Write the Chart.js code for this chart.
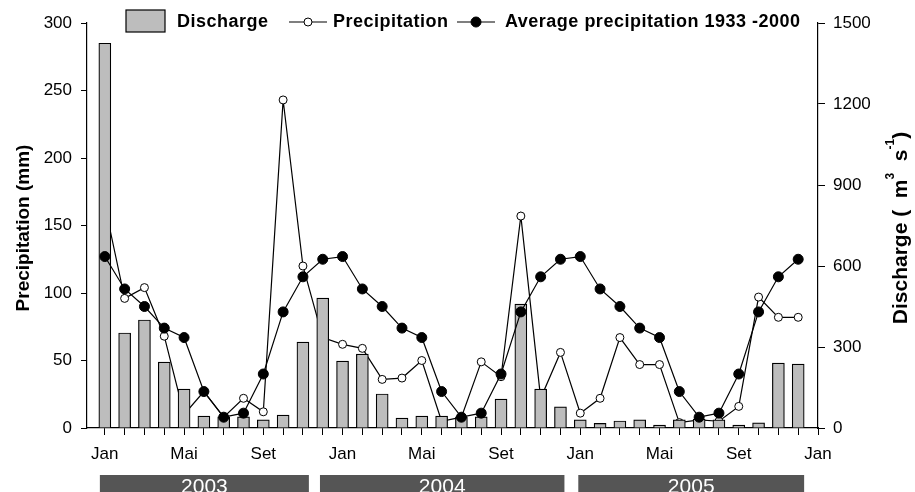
<!DOCTYPE html>
<html>
<head>
<meta charset="utf-8">
<script src="https://cdn.jsdelivr.net/npm/chart.js@4.4.1/dist/chart.umd.min.js"></script>
<style>
  html, body { margin: 0; padding: 0; background: #fff; }
  #wrap { width: 915px; height: 492px; position: relative; }
</style>
</head>
<body>
<div id="wrap"><canvas id="chart_discharge" width="915" height="492"></canvas></div>
<script>
// month index 0 = Jan 2003 ... 35 = Dec 2005, 36 = Jan 2006
var monthIdx = [0,1,2,3,4,5,6,7,8,9,10,11,12,13,14,15,16,17,18,19,20,21,22,23,24,25,26,27,28,29,30,31,32,33,34,35];
var precipitation = [165, 96, 104, 68, 10, 27, 8, 22, 12, 243, 120, 67,
                     62, 59, 36, 37, 50, 5, 8, 49, 38, 157, 22, 56,
                     11, 22, 67, 47, 47, 4, 6, 5, 16, 97, 82, 82];
var avgPrecipitation = [127, 103, 90, 74, 67, 27, 8, 11, 40, 86, 112, 125,
                        127, 103, 90, 74, 67, 27, 8, 11, 40, 86, 112, 125,
                        127, 103, 90, 74, 67, 27, 8, 11, 40, 86, 112, 125];
var discharge = [1425, 352, 400, 244, 144, 44, 41, 41, 30, 48, 318, 481,
                 248, 274, 126, 37, 44, 44, 41, 41, 107, 459, 144, 78,
                 30, 17, 26, 30, 11, 30, 33, 30, 11, 19, 240, 237];
var tickPos = [0, 4, 8, 12, 16, 20, 24, 28, 32, 36];
var tickLabels = ['Jan', 'Mai', 'Set', 'Jan', 'Mai', 'Set', 'Jan', 'Mai', 'Set', 'Jan'];
var years = ['2003', '2004', '2005'];
var yearStart = [-0.25, 10.86, 23.9];
var yearEnd = [10.3, 23.2, 35.3];

var chart;
var font_family = "'Liberation Sans', Arial, sans-serif";
var bar_color = '#bdbdbd';

function pts(values) {
  return values.map(function (v, i) { return { x: monthIdx[i], y: v }; });
}

function drawMarker(ctx, x, y, filled) {
  ctx.beginPath();
  ctx.arc(x, y, filled ? 5 : 4, 0, Math.PI * 2);
  ctx.fillStyle = filled ? '#000' : '#fff';
  ctx.fill();
  ctx.lineWidth = 1;
  ctx.strokeStyle = '#000';
  ctx.stroke();
}

var extras = {
  id: 'extras',
  afterDraw: function (c) {
    var ctx = c.ctx;
    var xs = c.scales.x;
    ctx.save();

    // year bands under the axis
    ctx.font = '21px ' + font_family;
    ctx.textAlign = 'center';
    ctx.textBaseline = 'alphabetic';
    for (var i = 0; i < years.length; i++) {
      var x0 = xs.getPixelForValue(yearStart[i]);
      var x1 = xs.getPixelForValue(yearEnd[i]);
      ctx.fillStyle = '#555555';
      ctx.fillRect(x0, 475, x1 - x0, 20);
      ctx.fillStyle = '#fff';
      ctx.fillText(years[i], (x0 + x1) / 2, 493);
    }

    // left title
    ctx.fillStyle = '#000';
    ctx.textBaseline = 'middle';
    ctx.save();
    ctx.translate(24, 228);
    ctx.rotate(-Math.PI / 2);
    ctx.font = 'bold 19px ' + font_family;
    ctx.fillText('Precipitation (mm)', 0, 0);
    ctx.restore();

    // right title with superscripts
    ctx.save();
    ctx.translate(901, 228);
    ctx.rotate(-Math.PI / 2);
    var parts = [['Discharge (  m', false], ['3', true], ['  s', false], ['-1', true], [')', false]];
    var big = 'bold 21px ' + font_family, small = 'bold 12px ' + font_family;
    var total = 0;
    parts.forEach(function (p) { ctx.font = p[1] ? small : big; total += ctx.measureText(p[0]).width; });
    var cx = -total / 2;
    ctx.textAlign = 'left';
    parts.forEach(function (p) {
      ctx.font = p[1] ? small : big;
      ctx.fillText(p[0], cx, p[1] ? -10 : 0);
      cx += ctx.measureText(p[0]).width;
    });
    ctx.restore();

    // legend
    ctx.textAlign = 'left';
    ctx.textBaseline = 'middle';
    ctx.font = 'bold 18px ' + font_family;
    ctx.letterSpacing = '0.5px';
    ctx.fillStyle = bar_color;
    ctx.fillRect(126, 10, 39, 22);
    ctx.lineWidth = 1.2;
    ctx.strokeStyle = '#000';
    ctx.strokeRect(126, 10, 39, 22);
    ctx.fillStyle = '#000';
    ctx.fillText('Discharge', 177, 22);

    ctx.beginPath();
    ctx.moveTo(289, 22); ctx.lineTo(327, 22);
    ctx.lineWidth = 1.2; ctx.stroke();
    drawMarker(ctx, 308, 22, false);
    ctx.fillStyle = '#000';
    ctx.fillText('Precipitation', 333, 22);

    ctx.beginPath();
    ctx.moveTo(457, 22); ctx.lineTo(495, 22);
    ctx.lineWidth = 1.2; ctx.stroke();
    drawMarker(ctx, 476, 22, true);
    ctx.fillStyle = '#000';
    ctx.fillText('Average precipitation 1933 -2000', 505, 22);

    ctx.restore();
  }
};

function make_chart() {
  var ctx = document.getElementById('chart_discharge').getContext('2d');
  Chart.defaults.font.family = font_family;
  Chart.defaults.color = '#000';

  chart = new Chart(ctx, {
    type: 'bar',
    data: {
      datasets: [{
        type: 'line',
        label: 'Average precipitation 1933 -2000',
        data: pts(avgPrecipitation),
        yAxisID: 'y',
        borderColor: '#000',
        borderWidth: 1.2,
        pointRadius: 5,
        pointBackgroundColor: '#000',
        pointBorderColor: '#000',
        pointBorderWidth: 1,
        tension: 0,
        order: 0
      }, {
        type: 'bar',
        label: 'Discharge',
        data: pts(discharge),
        yAxisID: 'y1',
        backgroundColor: bar_color,
        borderColor: '#000',
        borderWidth: 1.2,
        barThickness: 12,
        order: 1
      }, {
        type: 'line',
        label: 'Precipitation',
        data: pts(precipitation),
        yAxisID: 'y',
        borderColor: '#000',
        borderWidth: 1.2,
        pointRadius: 4,
        pointBackgroundColor: '#fff',
        pointBorderColor: '#000',
        pointBorderWidth: 1,
        tension: 0,
        order: 2
      }]
    },
    options: {
      responsive: false,
      animation: false,
      layout: { padding: { top: 23, left: 0, right: 0, bottom: 0 } },
      plugins: { legend: { display: false }, tooltip: { enabled: false } },
      scales: {
        x: {
          type: 'linear',
          offset: false,
          min: -0.9,
          max: 36,
          afterBuildTicks: function (s) {
            s.ticks = monthIdx.concat([36]).map(function (v) { return { value: v }; });
          },
          afterFit: function (s) { s.height = 64; },
          grid: { offset: false, drawOnChartArea: false, drawTicks: true, tickLength: 7, color: '#000', lineWidth: 1 },
          border: { display: true, color: '#000', width: 1.2 },
          ticks: {
            autoSkip: false,
            maxRotation: 0,
            padding: 9,
            font: { size: 17 },
            callback: function (value) {
              var k = tickPos.indexOf(value);
              return k >= 0 ? tickLabels[k] : '';
            }
          }
        },
        y: {
          position: 'left',
          min: 0,
          max: 300,
          afterFit: function (s) { s.width = 87; },
          grid: { drawOnChartArea: false, drawTicks: true, tickLength: 6, color: '#000' },
          border: { display: true, color: '#000', width: 1.2 },
          ticks: { stepSize: 50, padding: 9, font: { size: 17 } }
        },
        y1: {
          position: 'right',
          min: 0,
          max: 1500,
          afterFit: function (s) { s.width = 97; },
          grid: { drawOnChartArea: false, drawTicks: true, tickLength: 7, color: '#000' },
          border: { display: true, color: '#000', width: 1.2 },
          ticks: {
            stepSize: 300, padding: 8, font: { size: 17 },
            callback: function (value) { return String(value); }
          }
        }
      }
    },
    plugins: [extras]
  });
}

make_chart();
</script>
</body>
</html>
